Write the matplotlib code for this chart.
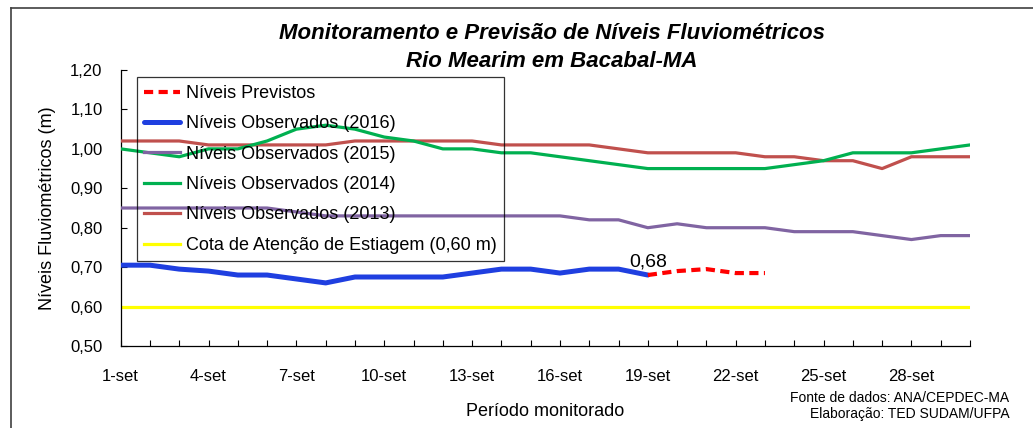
import matplotlib
matplotlib.use("Agg")
import matplotlib.pyplot as plt
from matplotlib.lines import Line2D

plt.rcParams['font.family'] = ['Liberation Sans', 'DejaVu Sans']

days = list(range(1, 31))
tick_days = list(range(1, 31, 3))
tick_labels = [f"{d}-set" for d in tick_days]

obs_2016 = [0.705, 0.705, 0.695, 0.69, 0.68, 0.68, 0.67, 0.66, 0.675, 0.675,
            0.675, 0.675, 0.685, 0.695, 0.695, 0.685, 0.695, 0.695, 0.68]
prev_days = [19, 20, 21, 22, 23]
previstos = [0.68, 0.69, 0.695, 0.685, 0.685]
obs_2015 = [0.85, 0.85, 0.85, 0.85, 0.85, 0.85, 0.84, 0.83, 0.83, 0.83,
            0.83, 0.83, 0.83, 0.83, 0.83, 0.83, 0.82, 0.82, 0.80, 0.81,
            0.80, 0.80, 0.80, 0.79, 0.79, 0.79, 0.78, 0.77, 0.78, 0.78]
obs_2014 = [1.00, 0.99, 0.98, 1.00, 1.00, 1.02, 1.05, 1.06, 1.05, 1.03,
            1.02, 1.00, 1.00, 0.99, 0.99, 0.98, 0.97, 0.96, 0.95, 0.95,
            0.95, 0.95, 0.95, 0.96, 0.97, 0.99, 0.99, 0.99, 1.00, 1.01]
obs_2013 = [1.02, 1.02, 1.02, 1.01, 1.01, 1.01, 1.01, 1.01, 1.02, 1.02,
            1.02, 1.02, 1.02, 1.01, 1.01, 1.01, 1.01, 1.00, 0.99, 0.99,
            0.99, 0.99, 0.98, 0.98, 0.97, 0.97, 0.95, 0.98, 0.98, 0.98]
cota = [0.60] * 30
last_value = 0.68

fig = plt.figure(figsize=(10.33, 4.28), dpi=100)
ax = fig.add_axes([0.1168, 0.1916, 0.8222, 0.6448])

ax.plot(days, cota, color='#FFFF00', lw=2.3, zorder=2,
        label='Cota de Atenção de Estiagem (0,60 m)')
ax.plot(days, obs_2013, color='#C0504D', lw=2.3, zorder=3,
        label='Níveis Observados (2013)')
ax.plot(days, obs_2014, color='#00B050', lw=2.3, zorder=3,
        label='Níveis Observados (2014)')
ax.plot(days, obs_2015, color='#8064A2', lw=2.3, zorder=3,
        label='Níveis Observados (2015)')
ax.plot(days[:len(obs_2016)], obs_2016, color='#1F3FE0', lw=3.6, zorder=4,
        label='Níveis Observados (2016)', solid_capstyle='round')
ax.plot(prev_days, previstos, color='#FF0000', lw=3.0, ls=(0, (2.2, 1.3)),
        zorder=5, label='Níveis Previstos')

ax.annotate(f"{last_value:.2f}".replace('.', ','), (19, last_value),
            xytext=(0, 3), textcoords='offset points', ha='center', va='bottom',
            fontsize=14, color='black', zorder=6)

ax.set_xlim(1, 30)
ax.set_ylim(0.5, 1.2)
ax.set_yticks([0.5 + 0.1 * i for i in range(8)])
ax.set_yticklabels([f"{0.5 + 0.1 * i:.2f}".replace('.', ',') for i in range(8)])
ax.set_xticks(days)
ax.set_xticklabels([f"{d}-set" if d in tick_days else "" for d in days])
ax.tick_params(axis='both', direction='in', length=4, width=0.8, labelsize=12,
               colors='black')
ax.tick_params(axis='x', pad=16.5)
ax.tick_params(axis='y', pad=13)
for s in ['top', 'right']:
    ax.spines[s].set_visible(False)
for s in ['left', 'bottom']:
    ax.spines[s].set_linewidth(0.9)
    ax.spines[s].set_color('black')

ax.set_ylabel('Níveis Fluviométricos (m)', fontsize=13, labelpad=10)
ax.set_xlabel('Período monitorado', fontsize=13, labelpad=14)

handles, labels = ax.get_legend_handles_labels()
order = [5, 4, 3, 2, 1, 0]
leg = ax.legend([handles[i] for i in order], [labels[i] for i in order],
                loc='upper left', bbox_to_anchor=(0.019, 0.973), fontsize=13,
                frameon=True, fancybox=False, facecolor='none', edgecolor='black',
                handlelength=2.0, handletextpad=0.3, labelspacing=0.74,
                borderpad=0.42, borderaxespad=0)
leg.get_frame().set_linewidth(0.9)

fig.text(0.534, 0.921, 'Monitoramento e Previsão de Níveis Fluviométricos',
         ha='center', va='center', fontsize=16, fontweight='bold', style='italic')
fig.text(0.534, 0.856, 'Rio Mearim em Bacabal-MA',
         ha='center', va='center', fontsize=16, fontweight='bold', style='italic')

fig.text(0.977, 0.071, 'Fonte de dados: ANA/CEPDEC-MA', ha='right', va='center',
         fontsize=10)
fig.text(0.977, 0.032, 'Elaboração: TED SUDAM/UFPA', ha='right', va='center',
         fontsize=10)

fig.add_artist(Line2D([0.0106, 1.0], [0.981, 0.981], color='#404040', lw=1.2))
fig.add_artist(Line2D([0.0106, 0.0106], [0.0, 0.981], color='#404040', lw=1.2))

fig.savefig('out.png', dpi=100)
